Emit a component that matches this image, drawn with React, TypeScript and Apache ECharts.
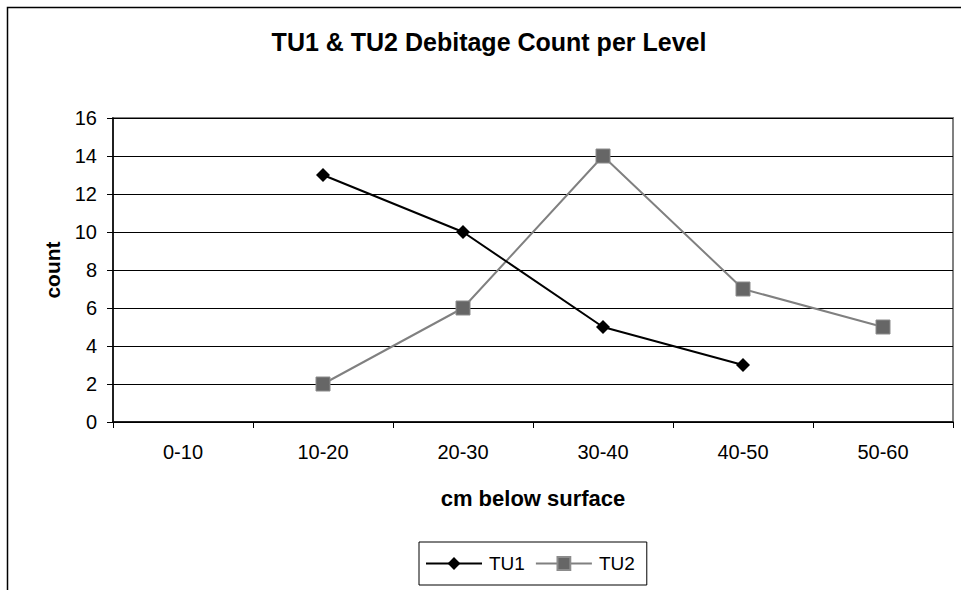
import React, { useEffect, useRef } from "react";
import * as echarts from "echarts";

const categories = ["0-10", "10-20", "20-30", "30-40", "40-50", "50-60"];
const tu1 = [null, 13, 10, 5, 3, null];
const tu2 = [null, 2, 6, 14, 7, 5];
const titleText = "TU1 & TU2 Debitage Count per Level";
const xName = "cm below surface";
const yName = "count";

const FONT = "'Liberation Sans', Arial, sans-serif";

export default function App() {
  const ref = useRef<HTMLDivElement>(null);
  useEffect(() => {
    if (!ref.current) return;
    const chart = echarts.init(ref.current, undefined, { renderer: "svg" });
    chart.setOption({
      animation: false,
      backgroundColor: "#fff",
      textStyle: { fontFamily: FONT },
      graphic: [
        {
          type: "rect",
          shape: { x: 7.5, y: 7.5, width: 1200, height: 1200 },
          style: { fill: "none", stroke: "#000", lineWidth: 1.5 },
          silent: true,
          z: 0,
        },
        {
          type: "text",
          x: 489,
          y: 42,
          style: {
            text: titleText,
            fontFamily: FONT,
            fontSize: 25,
            fontWeight: "bold",
            fill: "#000",
            align: "center",
            verticalAlign: "middle",
          },
        },
      ],
      grid: {
        left: 113,
        top: 118,
        right: 8,
        bottom: 168,
        show: true,
        borderColor: "#808080",
        borderWidth: 2,
        backgroundColor: "#fff",
      },
      legend: {
        left: 419,
        top: 542,
        orient: "horizontal",
        borderColor: "#000",
        borderWidth: 1,
        borderRadius: 0,
        padding: [12, 12, 12, 6],
        itemWidth: 56,
        itemHeight: 16,
        itemGap: 10,
        textStyle: { fontFamily: FONT, fontSize: 19, color: "#000", padding: [0, 0, 0, 2] },
        data: ["TU1", "TU2"],
      },
      xAxis: {
        type: "category",
        data: categories,
        boundaryGap: true,
        name: xName,
        nameLocation: "middle",
        nameGap: 65,
        nameTextStyle: { fontFamily: FONT, fontSize: 22, fontWeight: "bold", color: "#000" },
        axisLine: { show: true, lineStyle: { color: "#000", width: 1.5 } },
        axisTick: { show: true, length: 6, interval: 0, lineStyle: { color: "#000" } },
        axisLabel: { fontFamily: FONT, fontSize: 20, color: "#000", margin: 20, interval: 0 },
        splitLine: { show: false },
      },
      yAxis: {
        type: "value",
        min: 0,
        max: 16,
        interval: 2,
        name: yName,
        nameLocation: "middle",
        nameGap: 50,
        nameRotate: 90,
        nameTextStyle: { fontFamily: FONT, fontSize: 21, fontWeight: "bold", color: "#000" },
        axisLine: { show: true, lineStyle: { color: "#000", width: 1.5 } },
        axisTick: { show: true, length: 6, inside: false, lineStyle: { color: "#000" } },
        axisLabel: { fontFamily: FONT, fontSize: 20, color: "#000", margin: 16 },
        splitLine: { show: true, lineStyle: { color: "#000", width: 1 } },
      },
      series: [
        {
          name: "TU2",
          type: "line",
          data: tu2,
          symbol: "rect",
          symbolSize: 14,
          lineStyle: { color: "#808080", width: 2 },
          itemStyle: { color: "#666666", borderColor: "#8c8c8c", borderWidth: 1 },
          connectNulls: false,
          z: 3,
        },
        {
          name: "TU1",
          type: "line",
          data: tu1,
          symbol: "diamond",
          symbolSize: 14,
          lineStyle: { color: "#000", width: 2 },
          itemStyle: { color: "#000" },
          connectNulls: false,
          z: 4,
        },
      ],
    });
    return () => chart.dispose();
  }, []);
  return (
    <div
      ref={ref}
      style={{ position: "fixed", left: 0, top: 0, width: 961, height: 590 }}
    />
  );
}
